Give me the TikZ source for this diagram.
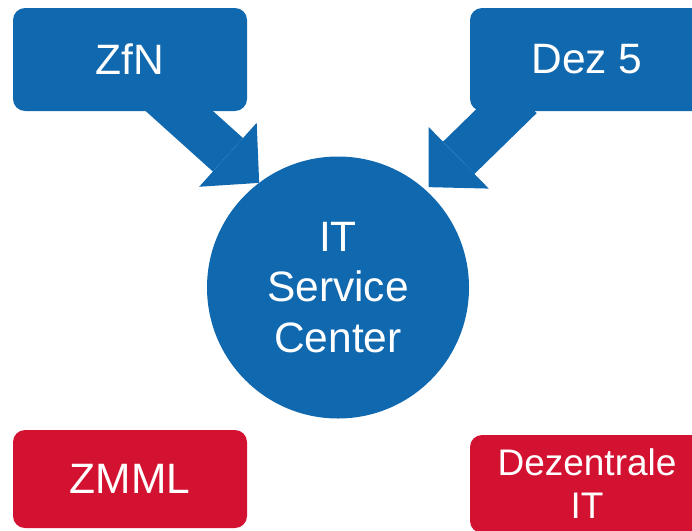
\documentclass[tikz,border=0pt]{standalone}
\usepackage{fontspec}
\setmainfont{Liberation Sans}
\usepackage{tikz}
\usetikzlibrary{arrows.meta,backgrounds}

\definecolor{itblue}{RGB}{16,104,175}
\definecolor{itred}{RGB}{211,17,48}

\begin{document}
\begin{tikzpicture}[x=1pt, y=-1pt,
			box/.style={rectangle, rounded corners=12pt, minimum width=234pt, minimum height=103pt, text=white, inner sep=0pt, outer sep=0pt, align=center, font=\fontsize{42.5}{51}\selectfont},
			bluebox/.style={box, fill=itblue},
			redbox/.style={box, fill=itred, minimum height=98pt},
			roundnode/.style={circle, fill=itblue, text=white, minimum size=262pt, inner sep=0pt, outer sep=0pt, align=center, font=\fontsize{42.5}{50.5}\selectfont},
			blockarrow/.style={draw=itblue, line width=45pt, -{Triangle[length=42pt, width=86pt, line width=0pt]}},
		]
		
			\useasboundingbox (0,0) rectangle (692,530);
		
			%Nodes
			\node[bluebox]		(zfn)	at (130,59.5)	{ZfN};
			\node[bluebox]		(dez5)	at (587,59.5)	{Dez 5};
			\node[roundnode]	(itsc)	at (338,287.5)	{IT\\Service\\Center};
			\node[redbox]		(zmml)	at (130,479)	{ZMML};
			\node[redbox, font=\fontsize{37}{43}\selectfont]	(dezit)	at (587,484)	{Dezentrale\\IT};
		
			%Lines
			\begin{scope}[on background layer]
				\draw[blockarrow]	([xshift=-8pt]zfn.center) -- (itsc.127);
				\draw[blockarrow]	([xshift=-66pt, yshift=-37.5pt]dez5.center) -- ([xshift=3pt, yshift=3pt]itsc.48);
			\end{scope}
		
		\end{tikzpicture}
\end{document}
